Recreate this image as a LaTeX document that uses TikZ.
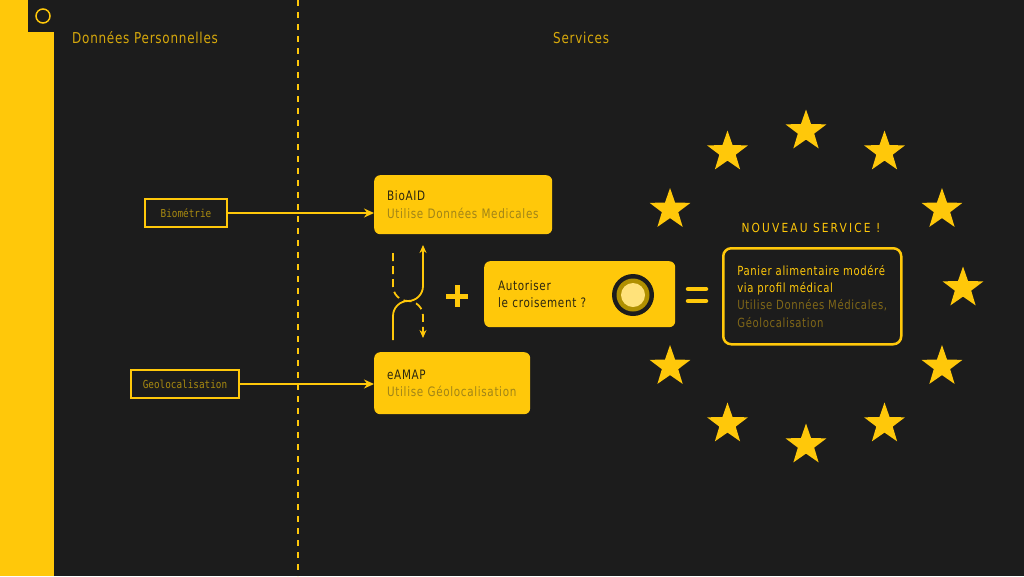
\documentclass[tikz,border=0pt]{standalone}
\usepackage{fontspec}
\setmainfont{DejaVu Sans}[FakeStretch=0.8,LetterSpace=5]
\newfontfamily\labelfont{DejaVu Sans Mono}[FakeStretch=0.85]
\newfontfamily\spacedfont{DejaVu Sans}[FakeStretch=0.85,LetterSpace=17]
\usetikzlibrary{arrows.meta,shapes.geometric}
\definecolor{bg}{HTML}{1C1C1C}
\definecolor{gold}{HTML}{FFC80A}
\definecolor{titletext}{HTML}{D6A80C}
\definecolor{dimtext}{HTML}{A08418}
\definecolor{darktext}{HTML}{2B2610}
\definecolor{labeltext}{HTML}{A88A10}
\definecolor{svcdim}{HTML}{806718}
\definecolor{ring}{HTML}{B09000}
\definecolor{knoblight}{HTML}{FFE27A}
\begin{document}
\begin{tikzpicture}[x=1pt,y=-1pt,
  title/.style={anchor=west,text=titletext,font=\fontsize{15}{18}\selectfont,inner sep=0},
  databox/.style={draw=gold,line width=1.5,text=labeltext,font=\labelfont\fontsize{11}{12}\selectfont,
    minimum height=28,inner sep=0},
  servicebox/.style={fill=gold,rounded corners=6,anchor=north west,align=left,text=darktext,
    font=\fontsize{13}{17.3}\selectfont,inner xsep=13,inner ysep=0},
  feed/.style={gold,line width=1.5,-{Stealth[length=10,width=9]}},
  swap/.style={gold,line width=1.8,-{Stealth[length=8,width=7]}},
  starnode/.style={star,star points=5,star point ratio=2.5,fill=gold,minimum size=43,inner sep=0}]
\useasboundingbox (0,0) rectangle (1024,576);
\fill[bg] (0,0) rectangle (1024,576);
\fill[gold] (0,0) rectangle (54,576);
\fill[bg] (28,0) rectangle (54,32);
\draw[gold,line width=1.5] (43,16) circle (7);
\draw[gold,line width=2,dash pattern=on 6 off 6] (298,0) -- (298,576);

\node[title] (perso) at (72,38) {Données Personnelles};
\node[title] (services) at (553,38) {Services};

\node[databox,minimum width=82] (biometrie) at (186,213) {Biométrie};
\node[databox,minimum width=108] (geoloc) at (185,384) {Geolocalisation};

\node[servicebox,minimum width=178,minimum height=59,text width=152] (bioaid) at (374,175)
  {BioAID\\\textcolor{dimtext}{Utilise Données Medicales}};
\node[servicebox,minimum width=156,minimum height=62,text width=130] (eamap) at (374,352)
  {eAMAP\\\textcolor{dimtext}{Utilise Géolocalisation}};

\draw[feed] (biometrie) -- (bioaid.west |- biometrie);
\draw[feed] (geoloc) -- (eamap.west |- geoloc);

\coordinate (up-start) at (393,340);
\coordinate (up-end) at (423,245);
\coordinate (down-start) at (393,253);
\coordinate (down-end) at (423,338);
\coordinate (cross) at (408,301);
\draw[swap] (up-start) -- (393,316) .. controls (393,307.7) and (399.7,301) .. (cross)
  .. controls (416.3,301) and (423,294.3) .. (423,286) -- (up-end);
\draw[swap,dash pattern=on 8 off 5] (down-start) -- (393,286) .. controls (393,294.3) and (399.7,301) .. (cross)
  .. controls (416.3,301) and (423,307.7) .. (423,316) -- (down-end);

\coordinate (plus) at (457,296);
\draw[gold,line width=5] (446,296) -- (468,296) (457,285) -- (457,307);

\node[servicebox,minimum width=190,minimum height=66,text width=163,inner xsep=14] (toggle) at (484,261)
  {Autoriser\\le croisement ?};
\node[circle,fill=bg,minimum size=42,inner sep=0] (knob) at (633,295) {};
\fill[ring] (knob) circle (16.5);
\fill[knoblight] (knob) circle (12);

\coordinate (equal) at (697,295);
\draw[gold,line width=4.5,line cap=round] (688,289) -- (706,289) (688,301) -- (706,301);

\node[text=gold,font=\spacedfont\fontsize{12.5}{14}\selectfont,inner sep=0] (newtitle) at (811,228) {NOUVEAU SERVICE !};
\node[draw=gold,line width=2.5,rounded corners=8,anchor=north west,align=left,text=gold,
  font=\fontsize{12.6}{17.3}\selectfont,minimum width=178,minimum height=96,inner xsep=12,inner ysep=0]
  (newsvc) at (722,247)
  {Panier alimentaire modéré\\via profil médical\\\textcolor{svcdim}{Utilise Données Médicales,}\\\textcolor{svcdim}{Géolocalisation}};

\foreach \a in {0,30,...,150,210,240,...,330}
  \node[starnode] (star-\a) at ({806+157*cos(\a)},{288+157*sin(\a)}) {};
\end{tikzpicture}
\end{document}
